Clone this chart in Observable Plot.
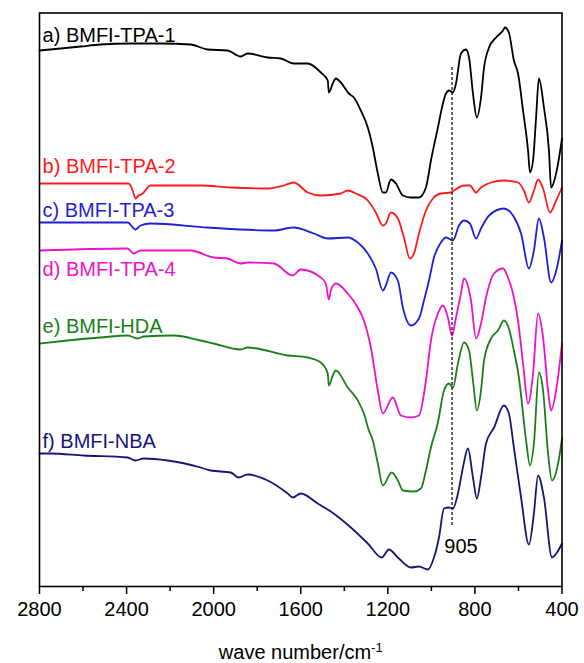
<!DOCTYPE html>
<html><head><meta charset="utf-8">
<script src="https://cdn.jsdelivr.net/npm/d3@7"></script>
<script src="https://cdn.jsdelivr.net/npm/@observablehq/plot@0.6"></script>
<style>body{margin:0;background:#fff}</style>
</head><body><div id="chart"></div>
<script>
// wavenumber (cm-1) and offset transmittance (a.u.) for each spectrum
const wnA = [2800,2703,2611,2520,2382,2244,2106,2028,1936,1876,1844,1752,1692,1632,1568,1508,1476,1471,1453,1439,1416,1379,1356,1324,1292,1269,1246,1223,1209,1186,1163,1131,1094,1057,1025,1002,970,947,933,919,901,887,864,841,827,809,791,772,758,735,703,671,662,644,621,602,579,556,547,533,519,506,483,460,450,427,400];
const tA  = [535,537,539,541,542,542,541,536,535,529,532,528,527,522,522,513,505,493,502,507,503,492,488,475,458,438,412,393,393,406,402,390,388,388,398,425,458,482,492,495,493,502,532,536,528,492,468,488,518,538,548,555,558,553,525,512,475,435,413,425,468,507,478,435,398,412,447];

const wnB = [2800,2391,2372,2359,2345,2326,2303,2290,2060,1922,1752,1678,1632,1568,1508,1416,1384,1347,1292,1255,1223,1209,1186,1154,1126,1099,1080,1057,1025,993,956,910,896,850,823,795,772,726,667,602,575,552,529,510,487,455,427,400];
const tB  = [402,402,395,387,390,392,398,400,400,398,397,400,403,393,390,392,395,392,385,373,360,362,373,367,348,327,332,352,375,387,392,393,395,400,400,393,398,403,405,403,395,383,395,406,397,373,385,398];

const wnC = [2800,2395,2359,2336,2290,2028,1876,1724,1632,1540,1476,1384,1338,1292,1255,1223,1209,1186,1154,1131,1094,1057,1034,1011,988,956,933,901,873,850,823,795,772,735,667,625,588,552,529,506,483,450,423,400];
const tC  = [363,363,356,360,362,358,356,355,358,352,347,348,343,332,317,295,300,313,305,278,260,267,285,305,328,343,348,345,360,365,362,347,357,370,377,370,352,317,335,367,348,303,318,345];

const wnD = [2800,2395,2368,2336,2106,2000,1936,1876,1844,1724,1637,1600,1508,1485,1471,1462,1439,1384,1338,1310,1278,1246,1223,1177,1140,1094,1057,1025,1002,970,947,924,905,887,864,850,818,795,772,749,712,671,648,625,602,579,556,533,510,487,464,450,427,400];
const tD  = [335,337,332,335,335,328,327,322,323,322,310,316,308,302,286,295,302,292,278,265,238,195,172,188,170,168,170,205,245,272,280,268,250,268,292,307,285,247,262,288,312,317,308,292,265,222,182,212,272,248,195,175,195,242];

const wnE = [2800,2671,2520,2395,2349,2322,2184,2060,2000,1876,1844,1660,1568,1508,1476,1471,1453,1439,1384,1338,1310,1287,1269,1246,1223,1182,1154,1131,1080,1048,1025,1002,970,942,919,901,878,850,827,809,791,772,758,726,694,667,644,621,598,565,547,529,506,487,464,446,418,400];
const tE  = [242,245,248,250,247,249,250,245,242,236,238,230,228,223,212,200,210,215,198,185,172,155,145,122,100,113,105,95,94,97,115,138,163,195,202,198,222,243,235,205,175,195,225,247,255,265,257,235,208,145,120,142,213,195,132,105,122,147];

const wnF = [2800,2749,2598,2395,2359,2322,2211,2060,2014,1922,1885,1844,1752,1660,1637,1600,1522,1462,1370,1292,1228,1195,1154,1094,1057,1016,988,965,942,919,901,878,855,832,809,791,772,749,712,667,644,621,588,552,529,510,483,446,423,400];
const tF  = [132,132,130,128,125,127,125,118,115,113,108,111,105,92,88,92,82,74,58,42,28,36,28,18,19,16,28,48,77,78,77,92,118,137,108,87,108,142,158,180,172,138,88,41,72,110,88,28,33,42];

const seriesNames = ["a) BMFI-TPA-1","b) BMFI-TPA-2","c) BMFI-TPA-3","d) BMFI-TPA-4","e) BMFI-HDA","f) BMFI-NBA"];
const seriesColors = ["#000000","#ff1a1a","#1f1fd6","#ee11cc","#1a7f1a","#161678"];
const labelLevels = [544,413,369,310,253,138];
const majorTicks = [2800,2400,2000,1600,1200,800,400];
const minorTicks = [2600,2200,1800,1400,1000,600];
const markerWn = 905;
const xTitle = "wave number/cm";
const xTitleSup = "-1";

const wns = [wnA,wnB,wnC,wnD,wnE,wnF];
const ts = [tA,tB,tC,tD,tE,tF];

const lines = seriesNames.map((name, k) =>
  Plot.line(wns[k].map((w, i) => ({wn: w, t: ts[k][i]})), {
    x: "wn", y: "t", stroke: seriesColors[k], strokeWidth: 1.8, curve: "monotone-x"
  })
);
const labels = seriesNames.map((name, k) =>
  Plot.text([name], {x: 2786, y: labelLevels[k], text: d => d, fill: seriesColors[k],
    textAnchor: "start", lineAnchor: "bottom", fontSize: 20})
);

const chart = Plot.plot({
  width: 584, height: 663,
  marginLeft: 39, marginRight: 22.5, marginTop: 12.5, marginBottom: 77,
  style: {fontFamily: "'Liberation Sans', Arial, sans-serif", background: "white", color: "black"},
  x: {domain: [2800, 400]},
  y: {domain: [-1, 572.5], axis: null},
  marks: [
    ...lines,
    Plot.ruleX([markerWn], {y1: 60, y2: 520, stroke: "black", strokeWidth: 1.2, strokeDasharray: "3,2"}),
    Plot.text([String(markerWn)], {x: 864, y: 33, text: d => d, fill: "black", fontSize: 20, lineAnchor: "bottom"}),
    ...labels,
    Plot.axisX({ticks: majorTicks, tickSize: 8, tickPadding: 7, tickFormat: d => String(d), fontSize: 20, label: null, strokeWidth: 1.5}),
    Plot.axisX({ticks: minorTicks, tickSize: 5, text: null, label: null, strokeWidth: 1.5}),
    Plot.frame({stroke: "black", strokeWidth: 1.6}),
    Plot.text([xTitle], {frameAnchor: "bottom", dy: 66, lineAnchor: "middle", fontSize: 20, fill: "black", text: d => d, className: "xtitle"})
  ]
});
document.getElementById("chart").appendChild(chart);
// add the superscript to the axis title
d3.select(chart).selectAll("g.xtitle text").each(function() {
  const el = d3.select(this);
  el.text(null);
  el.append("tspan").text(xTitle);
  el.append("tspan").attr("dy", "-0.5em").attr("font-size", "13px").text(xTitleSup);
});
</script>
</body></html>
